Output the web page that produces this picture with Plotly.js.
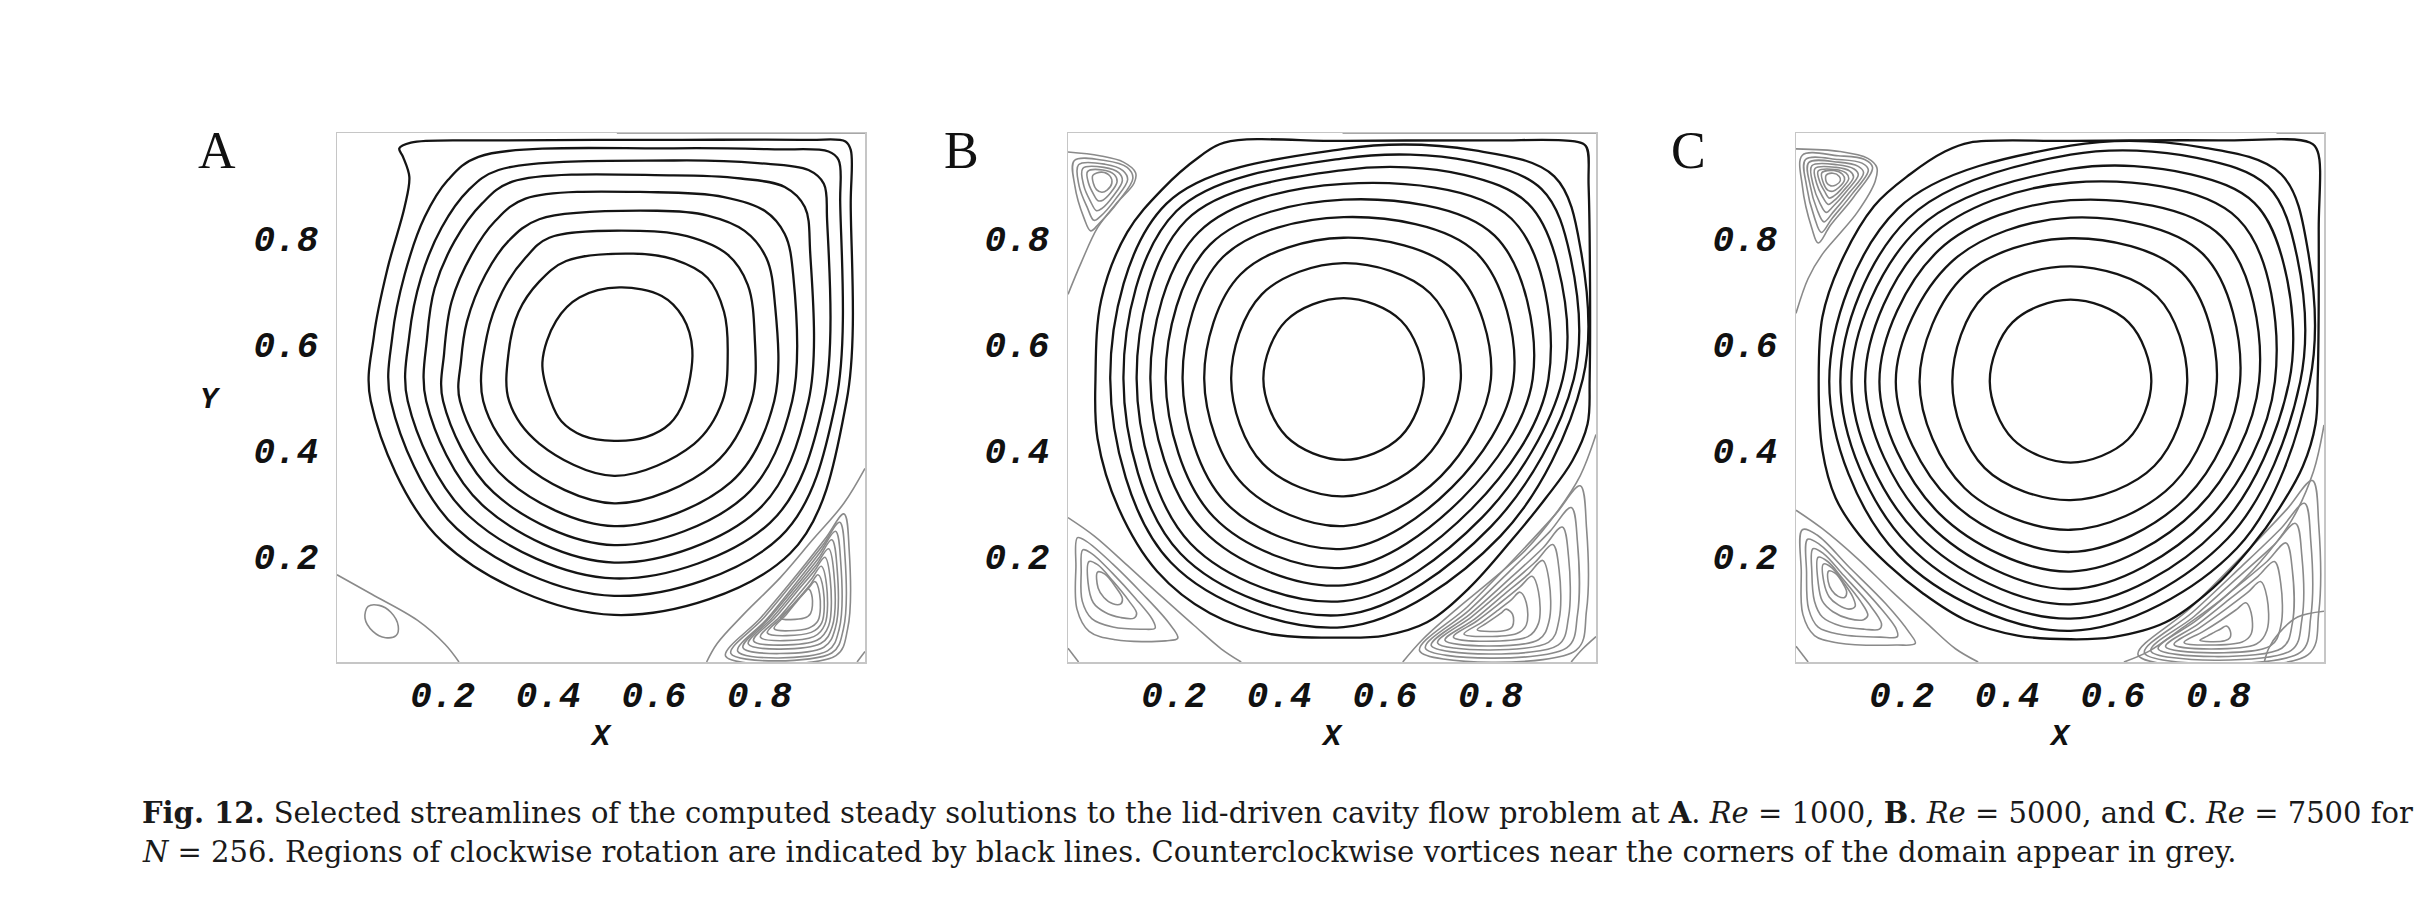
<!DOCTYPE html>
<html><head><meta charset="utf-8">
<script src="https://cdn.plot.ly/plotly-3.0.1.min.js"></script>
<style>html,body{margin:0;padding:0;background:#fff;}#chart{width:2434px;height:910px;}</style>
</head><body><div id="chart"></div>
<script>
// ---------- data (domain coordinates 0..1) ----------
const tickVals = [0.2, 0.4, 0.6, 0.8];
const tickText = ['0.2', '0.4', '0.6', '0.8'];
const panelLetters = ['A', 'B', 'C'];
const reynolds = [1000, 5000, 7500];

// Panel A (Re = 1000): clockwise streamlines (black)
const A_black = [
 [[.405,.493],[.389,.566],[.415,.645],[.459,.689],[.535,.708],[.615,.692],[.655,.652],[.673,.590],[.657,.493],[.630,.450],[.585,.425],[.525,.418],[.465,.428],[.425,.455],[.405,.493]],
 [[.326,.493],[.325,.585],[.344,.662],[.383,.719],[.434,.758],[.561,.772],[.638,.761],[.702,.726],[.733,.662],[.740,.585],[.730,.493],[.676,.412],[.525,.352],[.383,.413],[.326,.493]],
 [[.277,.493],[.284,.617],[.313,.700],[.357,.764],[.402,.802],[.574,.815],[.663,.805],[.740,.770],[.778,.713],[.791,.617],[.785,.493],[.713,.373],[.525,.300],[.351,.376],[.277,.493]],
 [[.233,.493],[.235,.570],[.246,.643],[.281,.732],[.325,.796],[.383,.837],[.606,.853],[.702,.844],[.772,.815],[.813,.764],[.829,.681],[.828,.493],[.746,.340],[.525,.257],[.320,.346],[.233,.493]],
 [[.201,.493],[.203,.585],[.217,.681],[.255,.770],[.300,.834],[.357,.876],[.606,.888],[.733,.879],[.810,.853],[.848,.809],[.864,.732],[.862,.493],[.772,.313],[.525,.221],[.297,.320],[.201,.493]],
 [[.169,.493],[.171,.617],[.185,.707],[.223,.796],[.274,.866],[.332,.908],[.638,.920],[.765,.914],[.848,.898],[.886,.860],[.896,.777],[.893,.493],[.797,.287],[.525,.188],[.275,.297],[.169,.493]],
 [[.134,.493],[.137,.617],[.159,.726],[.198,.821],[.249,.892],[.306,.930],[.638,.948],[.797,.943],[.893,.930],[.922,.904],[.928,.841],[.922,.493],[.820,.263],[.525,.158],[.250,.276],[.134,.493]],
 [[.102,.493],[.105,.617],[.128,.732],[.166,.841],[.210,.911],[.268,.955],[.638,.971],[.829,.969],[.931,.965],[.950,.949],[.953,.872],[.945,.493],[.839,.236],[.525,.125],[.227,.252],[.102,.493]],
 [[.064,.493],[.070,.617],[.096,.745],[.128,.860],[.137,.917],[.125,.955],[.118,.971],[.140,.982],[.300,.986],[.638,.987],[.893,.987],[.963,.984],[.973,.968],[.973,.872],[.965,.493],[.858,.205],[.525,.089],[.200,.227],[.064,.493]]
];
// Panel A: counterclockwise vortices and separatrices (grey)
const A_grey = [
 [[0,.165],[.066,.128],[.152,.079],[.205,.033],[.231,0]],
 [[.059,.105],[.080,.107],[.102,.094],[.116,.068],[.112,.050],[.092,.046],[.068,.058],[.053,.083],[.059,.105]],
 [[1,.366],[.96,.30],[.90,.23],[.84,.16],[.77,.09],[.72,.035],[.70,0]],
 [[.960,.280],[.970,.212],[.967,.062],[.945,.012],[.736,.011],[.803,.084],[.870,.164],[.926,.235],[.960,.280]],
 [[.952,.264],[.962,.201],[.959,.062],[.937,.017],[.746,.016],[.808,.083],[.870,.158],[.921,.222],[.952,.264]],
 [[.944,.247],[.954,.189],[.951,.062],[.929,.021],[.759,.020],[.815,.082],[.870,.150],[.916,.209],[.944,.247]],
 [[.937,.231],[.947,.179],[.944,.065],[.922,.028],[.769,.027],[.819,.083],[.870,.144],[.912,.196],[.937,.231]],
 [[.931,.214],[.941,.168],[.938,.067],[.916,.035],[.779,.034],[.825,.084],[.870,.138],[.908,.184],[.931,.214]],
 [[.924,.198],[.934,.158],[.931,.068],[.909,.041],[.789,.040],[.830,.084],[.870,.132],[.904,.172],[.924,.198]],
 [[.917,.181],[.927,.147],[.924,.071],[.903,.048],[.802,.047],[.837,.084],[.871,.124],[.900,.159],[.917,.181]],
 [[.911,.165],[.921,.137],[.918,.074],[.898,.056],[.815,.055],[.844,.086],[.873,.119],[.897,.147],[.911,.165]],
 [[.905,.152],[.914,.129],[.911,.078],[.893,.064],[.828,.063],[.851,.090],[.874,.118],[.894,.141],[.905,.152]],
 [[.893,.138],[.900,.122],[.897,.092],[.885,.083],[.840,.083],[.855,.099],[.870,.115],[.884,.130],[.893,.138]],
 [[.53,1],[1,1]],
 [[1,.02],[.985,0]]
];

// Panel B (Re = 5000)
const B_black = [
 [[.370,.535],[.413,.645],[.522,.688],[.631,.645],[.674,.535],[.630,.426],[.522,.382],[.414,.426],[.370,.535]],
 [[.309,.535],[.367,.695],[.522,.754],[.686,.697],[.744,.535],[.674,.383],[.522,.313],[.369,.375],[.309,.535]],
 [[.258,.535],[.327,.733],[.522,.802],[.734,.738],[.801,.535],[.706,.351],[.522,.257],[.332,.335],[.258,.535]],
 [[.217,.535],[.293,.765],[.522,.841],[.773,.774],[.844,.535],[.727,.330],[.522,.214],[.299,.301],[.217,.535]],
 [[.185,.535],[.269,.789],[.522,.874],[.808,.806],[.880,.535],[.747,.310],[.522,.178],[.276,.274],[.185,.535]],
 [[.156,.535],[.247,.812],[.522,.904],[.840,.838],[.910,.535],[.766,.291],[.522,.145],[.255,.250],[.156,.535]],
 [[.130,.535],[.224,.835],[.522,.930],[.750,.921],[.871,.867],[.927,.752],[.937,.535],[.784,.273],[.522,.115],[.232,.224],[.130,.535]],
 [[.105,.535],[.205,.852],[.522,.952],[.762,.947],[.897,.894],[.952,.764],[.958,.535],[.801,.256],[.522,.089],[.213,.205],[.105,.535]],
 [[.080,.535],[.186,.866],[.522,.970],[.771,.967],[.921,.918],[.972,.774],[.975,.535],[.819,.238],[.522,.066],[.195,.188],[.080,.535]],
 [[.052,.535],[.063,.685],[.112,.812],[.178,.893],[.249,.955],[.296,.982],[.522,.985],[.80,.986],[.96,.984],[.981,.975],[.986,.90],[.988,.535],[.984,.45],[.955,.38],[.905,.31],[.84,.23],[.76,.14],[.68,.075],[.60,.05],[.522,.046],[.382,.053],[.269,.092],[.169,.171],[.096,.290],[.056,.422],[.052,.535]]
];
const B_grey = [
 [[0,.695],[.025,.755],[.056,.821],[.09,.865],[.125,.905],[.128,.925],[.105,.945],[.06,.957],[0,.964]],
 [[.012,.948],[.07,.948],[.112,.935],[.123,.915],[.095,.87],[.058,.828],[.043,.815],[.030,.84],[.013,.90],[.012,.948]],
 [[.020,.940],[.07,.941],[.104,.929],[.113,.912],[.090,.875],[.062,.843],[.049,.835],[.037,.858],[.021,.90],[.020,.940]],
 [[.028,.933],[.068,.935],[.096,.925],[.103,.910],[.085,.880],[.065,.858],[.054,.853],[.043,.870],[.030,.90],[.028,.933]],
 [[.037,.927],[.066,.930],[.088,.921],[.093,.908],[.080,.886],[.066,.873],[.057,.872],[.048,.885],[.039,.905],[.037,.927]],
 [[.047,.920],[.064,.926],[.080,.918],[.083,.905],[.074,.892],[.064,.888],[.054,.893],[.048,.905],[.047,.920]],
 [[0,.273],[.05,.238],[.113,.182],[.176,.125],[.239,.069],[.29,.025],[.328,0]],
 [[.018,.235],[.035,.228],[.085,.185],[.14,.13],[.19,.075],[.208,.045],[.185,.040],[.09,.042],[.040,.058],[.017,.10],[.015,.18],[.018,.235]],
 [[.028,.212],[.045,.205],[.085,.167],[.128,.120],[.160,.080],[.165,.064],[.14,.062],[.085,.066],[.045,.082],[.027,.115],[.025,.17],[.028,.212]],
 [[.040,.190],[.056,.184],[.085,.153],[.115,.116],[.130,.092],[.125,.083],[.100,.084],[.070,.094],[.048,.112],[.038,.15],[.040,.190]],
 [[.056,.170],[.070,.166],[.090,.142],[.103,.120],[.100,.110],[.085,.110],[.068,.122],[.057,.140],[.056,.170]],
 [[1,.43],[.970,.352],[.925,.282],[.868,.213],[.805,.157],[.736,.100],[.672,.043],[.634,0]],
 [[.970,.333],[.982,.254],[.982,.097],[.962,.022],[.666,.021],[.757,.105],[.848,.198],[.924,.280],[.970,.333]],
 [[.953,.292],[.965,.225],[.965,.090],[.945,.027],[.677,.026],[.760,.098],[.843,.178],[.912,.246],[.953,.292]],
 [[.936,.255],[.948,.199],[.948,.085],[.928,.032],[.688,.031],[.762,.091],[.837,.158],[.899,.215],[.936,.255]],
 [[.918,.222],[.930,.175],[.930,.080],[.910,.037],[.700,.036],[.765,.086],[.831,.142],[.885,.189],[.918,.222]],
 [[.899,.192],[.911,.154],[.911,.077],[.891,.042],[.714,.041],[.770,.081],[.825,.127],[.871,.165],[.899,.192]],
 [[.879,.162],[.891,.133],[.891,.073],[.871,.048],[.730,.047],[.775,.078],[.819,.112],[.856,.142],[.879,.162]],
 [[.856,.132],[.868,.112],[.868,.070],[.850,.054],[.750,.053],[.782,.074],[.813,.097],[.840,.118],[.856,.132]],
 [[.830,.100],[.842,.090],[.842,.068],[.830,.060],[.775,.061],[.792,.073],[.808,.084],[.822,.094],[.830,.100]],
 [[1,.048],[.975,.025],[.953,0]],
 [[0,.026],[.02,0]],
 [[.52,1],[1,1]]
];

// Panel C (Re = 7500)
const C_black = [
 [[.367,.53],[.410,.642],[.52,.685],[.630,.642],[.673,.53],[.629,.421],[.52,.377],[.411,.421],[.367,.53]],
 [[.296,.53],[.357,.693],[.52,.748],[.684,.691],[.741,.53],[.679,.371],[.52,.306],[.357,.367],[.296,.53]],
 [[.234,.53],[.319,.731],[.52,.801],[.731,.736],[.797,.53],[.714,.336],[.52,.250],[.319,.329],[.234,.53]],
 [[.189,.53],[.294,.756],[.52,.840],[.770,.772],[.841,.53],[.739,.311],[.52,.208],[.294,.304],[.189,.53]],
 [[.158,.53],[.271,.779],[.52,.873],[.806,.804],[.877,.53],[.760,.290],[.52,.171],[.271,.281],[.158,.53]],
 [[.131,.53],[.250,.800],[.52,.906],[.837,.838],[.907,.53],[.780,.270],[.52,.138],[.251,.261],[.131,.53]],
 [[.105,.53],[.231,.819],[.52,.932],[.748,.922],[.868,.868],[.924,.751],[.934,.53],[.799,.251],[.52,.109],[.231,.241],[.105,.53]],
 [[.084,.53],[.212,.838],[.52,.959],[.759,.953],[.894,.899],[.949,.766],[.955,.53],[.817,.233],[.52,.082],[.212,.222],[.084,.53]],
 [[.063,.53],[.193,.857],[.52,.976],[.769,.973],[.919,.922],[.970,.775],[.973,.53],[.835,.215],[.52,.059],[.193,.203],[.063,.53]],
 [[.043,.53],[.050,.652],[.083,.751],[.148,.862],[.216,.922],[.282,.965],[.329,.982],[.52,.985],[.80,.986],[.973,.982],[.988,.965],[.990,.817],[.988,.53],[.984,.45],[.96,.37],[.915,.29],[.86,.215],[.79,.14],[.70,.075],[.60,.047],[.52,.043],[.42,.05],[.32,.08],[.24,.13],[.174,.184],[.12,.24],[.075,.31],[.050,.40],[.043,.53]]
];
const C_grey = [
 [[0,.659],[.023,.725],[.050,.771],[.083,.810],[.116,.850],[.150,.909],[.153,.935],[.136,.952],[.083,.965],[0,.970]],
 [[.012,.958],[.08,.957],[.130,.950],[.145,.935],[.11,.88],[.065,.825],[.042,.792],[.030,.82],[.012,.90],[.012,.958]],
 [[.018,.950],[.08,.950],[.125,.943],[.137,.930],[.105,.883],[.068,.838],[.048,.812],[.035,.84],[.020,.90],[.018,.950]],
 [[.024,.944],[.08,.945],[.118,.937],[.128,.925],[.100,.886],[.070,.850],[.053,.832],[.040,.855],[.027,.90],[.024,.944]],
 [[.030,.938],[.078,.940],[.110,.932],[.118,.921],[.095,.889],[.071,.862],[.057,.850],[.045,.868],[.033,.90],[.030,.938]],
 [[.036,.933],[.076,.935],[.102,.928],[.109,.917],[.090,.891],[.072,.872],[.061,.865],[.050,.880],[.039,.905],[.036,.933]],
 [[.042,.928],[.074,.931],[.095,.924],[.100,.914],[.085,.893],[.072,.881],[.063,.877],[.054,.890],[.045,.908],[.042,.928]],
 [[.049,.925],[.072,.929],[.088,.922],[.092,.912],[.081,.897],[.070,.890],[.060,.892],[.052,.905],[.049,.925]],
 [[.057,.920],[.070,.924],[.082,.918],[.084,.910],[.076,.902],[.066,.900],[.058,.906],[.057,.920]],
 [[0,.287],[.05,.252],[.116,.196],[.183,.132],[.249,.072],[.302,.025],[.345,0]],
 [[.012,.250],[.04,.240],[.10,.18],[.17,.11],[.215,.055],[.226,.035],[.19,.032],[.08,.036],[.035,.05],[.013,.09],[.010,.17],[.012,.250]],
 [[.022,.232],[.045,.222],[.095,.172],[.155,.108],[.190,.062],[.192,.048],[.16,.047],[.085,.052],[.042,.066],[.024,.10],[.020,.17],[.022,.232]],
 [[.032,.214],[.052,.205],[.090,.164],[.138,.110],[.162,.072],[.158,.062],[.13,.062],[.085,.068],[.050,.085],[.035,.115],[.030,.17],[.032,.214]],
 [[.042,.198],[.060,.190],[.088,.158],[.122,.115],[.136,.088],[.128,.080],[.100,.082],[.070,.095],[.050,.115],[.042,.15],[.042,.198]],
 [[.052,.185],[.068,.178],[.088,.153],[.108,.122],[.112,.105],[.100,.100],[.080,.108],[.063,.123],[.053,.15],[.052,.185]],
 [[.062,.172],[.074,.168],[.088,.150],[.096,.132],[.092,.122],[.080,.124],[.068,.135],[.061,.152],[.062,.172]],
 [[1,.448],[.98,.36],[.94,.27],[.88,.19],[.814,.125],[.734,.066],[.668,.02],[.621,0]],
 [[.978,.343],[.990,.260],[.990,.093],[.970,.014],[.648,.013],[.747,.102],[.846,.201],[.929,.288],[.978,.343]],
 [[.963,.300],[.975,.228],[.975,.086],[.955,.018],[.660,.017],[.751,.094],[.842,.179],[.918,.252],[.963,.300]],
 [[.946,.262],[.958,.201],[.958,.079],[.938,.022],[.672,.021],[.754,.086],[.836,.159],[.905,.221],[.946,.262]],
 [[.928,.225],[.940,.174],[.940,.073],[.920,.026],[.686,.025],[.759,.079],[.831,.139],[.892,.190],[.928,.225]],
 [[.906,.190],[.918,.149],[.918,.067],[.898,.030],[.700,.029],[.762,.072],[.824,.121],[.875,.162],[.906,.190]],
 [[.880,.152],[.892,.122],[.892,.060],[.872,.034],[.716,.033],[.765,.065],[.814,.100],[.855,.131],[.880,.152]],
 [[.852,.112],[.862,.093],[.862,.053],[.845,.038],[.735,.037],[.770,.057],[.805,.079],[.834,.099],[.852,.112]],
 [[.815,.068],[.822,.060],[.822,.046],[.812,.040],[.765,.041],[.779,.049],[.792,.056],[.805,.063],[.815,.068]],
 [[1,.096],[.95,.085],[.915,.055],[.895,.025],[.887,0]],
 [[0,.03],[.023,0]],
 [[.91,1],[1,1]]
];

// ---------- drawing ----------
const BLACK = '#141414', GREY = '#8a8a8a';
const traces = [];
// Plotly draws a spline whose first and last points coincide as a smooth closed curve
function addCurve(pts, color, width, xa, ya) {
  traces.push({
    type: 'scatter', mode: 'lines', xaxis: xa, yaxis: ya,
    x: pts.map(q => q[0]), y: pts.map(q => q[1]),
    line: {color: color, width: width, shape: pts.length > 2 ? 'spline' : 'linear', smoothing: 1},
    hoverinfo: 'skip', showlegend: false
  });
}
const panels = [
  {black: A_black, grey: A_grey, xa: 'x', ya: 'y'},
  {black: B_black, grey: B_grey, xa: 'x2', ya: 'y2'},
  {black: C_black, grey: C_grey, xa: 'x3', ya: 'y3'}
];
panels.forEach(pn => {
  pn.grey.forEach(c => addCurve(c, GREY, 1.6, pn.xa, pn.ya));
  pn.black.forEach(c => addCurve(c, BLACK, 2.3, pn.xa, pn.ya));
});

const W = 2434, H = 910;
const xDom = [[337, 865], [1068, 1596], [1796, 2324]];
const yDom = [(H - 662) / H, (H - 133) / H];
const tickFont = {family: 'Liberation Mono, DejaVu Sans Mono, monospace', size: 36, weight: 'bold', style: 'italic', color: '#111'};
function xAxis(i) {
  return {domain: [xDom[i][0] / W, xDom[i][1] / W], range: [0, 1], anchor: i === 0 ? 'y' : 'y' + (i + 1),
    tickvals: tickVals, ticktext: tickText, ticks: '', showgrid: false, zeroline: false,
    showline: true, mirror: true, linecolor: '#c6c6c6', linewidth: 1.5, tickfont: tickFont,
    ticklabelstandoff: 0, fixedrange: true};
}
function yAxis(i) {
  return {domain: yDom, range: [0, 1], anchor: i === 0 ? 'x' : 'x' + (i + 1),
    tickvals: tickVals, ticktext: tickText, ticks: '', showgrid: false, zeroline: false,
    showline: true, mirror: true, linecolor: '#c6c6c6', linewidth: 1.5, tickfont: tickFont,
    ticklabelstandoff: 10, fixedrange: true};
}
const titleFont = {family: 'Liberation Mono, DejaVu Sans Mono, monospace', size: 30, weight: 'bold', style: 'italic', color: '#111'};
const annotations = [];
const letterX = [217, 961, 1688];
panelLetters.forEach((L, i) => {
  annotations.push({text: L, x: letterX[i] / W, y: (H - 151) / H, xref: 'paper', yref: 'paper',
    xanchor: 'center', yanchor: 'middle', showarrow: false,
    font: {family: 'Liberation Serif, DejaVu Serif, serif', size: 52, color: '#111'}});
  annotations.push({text: 'X', x: ((xDom[i][0] + xDom[i][1]) / 2) / W, y: (H - 737) / H, xref: 'paper', yref: 'paper',
    xanchor: 'center', yanchor: 'middle', showarrow: false, font: titleFont});
});
annotations.push({text: 'Y', x: 210 / W, y: (H - 400) / H, xref: 'paper', yref: 'paper',
  xanchor: 'center', yanchor: 'middle', showarrow: false, font: titleFont});
const capFont = {family: 'DejaVu Serif, Liberation Serif, serif', size: 29, color: '#1a1a1a'};
annotations.push({text: '<b>Fig. 12.</b> Selected streamlines of the computed steady solutions to the lid-driven cavity flow problem at <b>A</b>. <i>Re</i> = ' + reynolds[0] + ', <b>B</b>. <i>Re</i> = ' + reynolds[1] + ', and <b>C</b>. <i>Re</i> = ' + reynolds[2] + ' for',
  x: 140 / W, y: (H - 813) / H, xref: 'paper', yref: 'paper', xanchor: 'left', yanchor: 'middle', showarrow: false, font: capFont});
annotations.push({text: '<i>N</i> = 256. Regions of clockwise rotation are indicated by black lines. Counterclockwise vortices near the corners of the domain appear in grey.',
  x: 140 / W, y: (H - 852) / H, xref: 'paper', yref: 'paper', xanchor: 'left', yanchor: 'middle', showarrow: false, font: capFont});

const layout = {
  width: W, height: H, margin: {l: 0, r: 0, t: 0, b: 0},
  paper_bgcolor: '#fff', plot_bgcolor: '#fff', showlegend: false,
  xaxis: xAxis(0), yaxis: yAxis(0), xaxis2: xAxis(1), yaxis2: yAxis(1), xaxis3: xAxis(2), yaxis3: yAxis(2),
  annotations: annotations
};
Plotly.newPlot('chart', traces, layout, {displayModeBar: false, staticPlot: true});
</script></body></html>
